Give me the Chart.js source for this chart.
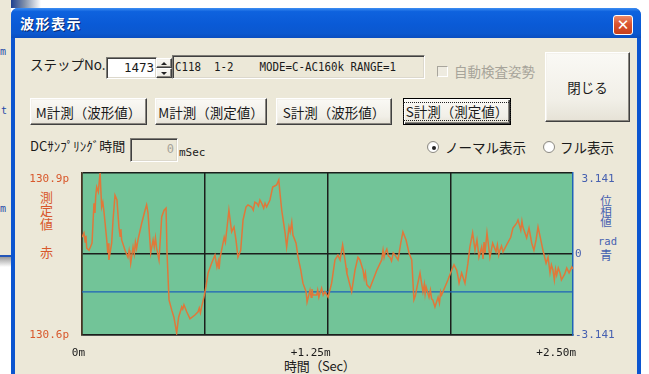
<!DOCTYPE html>
<html lang="ja">
<head>
<meta charset="utf-8">
<title>波形表示</title>
<script src="https://cdn.jsdelivr.net/npm/chart.js@4/dist/chart.umd.min.js"></script>
<style>
html,body{margin:0;padding:0;width:649px;height:374px;overflow:hidden;background:#fff;}
body{position:relative;font-family:"Noto Sans CJK JP",sans-serif;color:#1a1a1a;}
.a{position:absolute;box-sizing:border-box;}
.mono{font-family:"DejaVu Sans Mono",monospace;}
/* background window on the left */
#bgwin{left:0;top:0;width:11px;height:255px;background:#ECE8D8;}
#bgline{left:0;top:255px;width:11px;height:2px;background:#2456B8;}
#bgshade{left:0;top:257px;width:11px;height:10px;background:linear-gradient(#9a9a9a,#fff);}
#bgtop{left:11px;top:0;width:30px;height:8px;background:linear-gradient(to right,#1d3f8f,#8090aa 45%,#fff);}
.bgtxt{color:#2448A8;font-size:10px;line-height:10px;}
/* dialog frame */
#dlg{left:11px;top:8px;width:630px;height:380px;border-radius:7px 7px 0 0;background:#0B55D0;overflow:hidden;}
#titlebar{left:0;top:0;width:630px;height:30px;background:linear-gradient(#3D8EF2 0%,#0E62DE 12%,#0A5AD6 55%,#0B58CF 85%,#0A4EC0 100%);}
#title{left:9px;top:3px;color:#fff;font-weight:bold;font-size:14px;line-height:24px;letter-spacing:1.5px;text-shadow:1px 1px 0 #0a2a70;}
#close{left:602px;top:7px;width:20px;height:20px;border:1px solid #fff;border-radius:3px;background:linear-gradient(#EE8A68,#DA5430 45%,#C8401C);color:#fff;font:bold 15px/18px "DejaVu Sans",sans-serif;text-align:center;}
#client{left:4px;top:30px;width:622px;height:360px;background:#ECE8D8;}
/* controls */
.lbl{font-size:13.5px;line-height:16px;white-space:nowrap;}
.sunken{border-style:solid;border-width:1px;border-color:#7f7d76 #fff #fff #7f7d76;box-shadow:inset 1px 1px 0 #404040,inset -1px -1px 0 #dcd8cc;}
.btn{border-style:solid;border-width:1px;border-color:#fff #404040 #404040 #fff;box-shadow:inset -1px -1px 0 #8a8780,inset 1px 1px 0 #f4f2ec;background:linear-gradient(#FAF9F5,#F1EFE7 70%,#E6E2D6);display:flex;align-items:center;justify-content:center;font-size:13.5px;white-space:nowrap;}
.focus{border:1px solid #000;box-shadow:inset 1px 1px 0 #fff,inset -1px -1px 0 #404040,inset -2px -2px 0 #8a8780;}
.focus span{border:1px dotted #222;padding:0 2px;line-height:17px;}
.radio{width:12px;height:12px;border-radius:50%;border:1px solid #8c8a84;background:radial-gradient(circle at 60% 60%,#fff 55%,#dedbd0);}
.dot{left:3.5px;top:3.5px;width:4px;height:4px;border-radius:50%;background:#222;}
.vt{text-align:center;}
#chartbox{left:20px;top:165px;width:612px;height:209px;}
</style>
</head>
<body>
<div class="a" id="bgwin"></div>
<div class="a" id="bgline"></div>
<div class="a" id="bgshade"></div>
<div class="a" id="bgtop"></div>
<div class="a bgtxt mono" style="left:0;top:47px;">m</div>
<div class="a bgtxt mono" style="left:1px;top:106px;">t</div>
<div class="a bgtxt mono" style="left:0;top:204px;">m</div>

<div class="a" id="dlg">
  <div class="a" id="titlebar"></div>
  <div class="a" id="title">波形表示</div>
  <div class="a" id="close">✕</div>
  <div class="a" id="client"></div>
</div>

<!-- step row -->
<div class="a lbl" style="left:30px;top:56px;">ステップNo.</div>
<div class="a sunken" style="left:106px;top:57px;width:51px;height:22px;background:#fff;"></div>
<div class="a mono" style="left:106px;top:60px;width:48px;text-align:right;font-size:12.5px;line-height:16px;">1473</div>
<div class="a btn" style="left:156px;top:58px;width:16px;height:10px;"><div style="width:0;height:0;border-left:3px solid transparent;border-right:3px solid transparent;border-bottom:3px solid #222;"></div></div>
<div class="a btn" style="left:156px;top:68px;width:16px;height:10px;"><div style="width:0;height:0;border-left:3px solid transparent;border-right:3px solid transparent;border-top:3px solid #222;"></div></div>
<div class="a sunken" style="left:172px;top:55px;width:253px;height:24px;"></div>
<div class="a mono" style="left:175px;top:59px;font-size:12px;line-height:16px;white-space:pre;transform:scaleX(0.9);transform-origin:0 0;">C118  1-2    MODE=C-AC160k RANGE=1</div>
<div class="a sunken" style="left:437px;top:66px;width:11px;height:11px;background:#EEEBE0;box-shadow:none;border-color:#a8a59c #fff #fff #a8a59c;"></div>
<div class="a lbl" style="left:454px;top:63px;color:#A7A49A;">自動検査姿勢</div>
<div class="a btn" style="left:545px;top:52px;width:85px;height:70px;">閉じる</div>

<!-- measurement buttons -->
<div class="a btn" style="left:30px;top:98px;width:117px;height:27px;">M計測（波形値）</div>
<div class="a btn" style="left:155px;top:98px;width:112px;height:27px;">M計測（測定値）</div>
<div class="a btn" style="left:276px;top:98px;width:116px;height:27px;">S計測（波形値）</div>
<div class="a btn focus" style="left:403px;top:98px;width:108px;height:27px;"><span>S計測（測定値）</span></div>

<!-- sampling row -->
<div class="a lbl" style="left:30px;top:138px;font-size:13px;">DCｻﾝﾌﾟﾘﾝｸﾞ時間</div>
<div class="a sunken" style="left:130px;top:138px;width:48px;height:24px;"></div>
<div class="a mono" style="left:131px;top:142px;width:43px;text-align:right;font-size:12px;line-height:14px;color:#A7A49A;">0</div>
<div class="a mono" style="left:179px;top:147px;font-size:11px;line-height:12px;">mSec</div>
<div class="a radio" style="left:427px;top:141px;"><div class="a dot"></div></div>
<div class="a lbl" style="left:445px;top:139px;">ノーマル表示</div>
<div class="a radio" style="left:543px;top:141px;"></div>
<div class="a lbl" style="left:560px;top:139px;">フル表示</div>

<!-- axis side captions -->
<div class="a vt" style="left:39px;top:190px;width:15px;font-size:13px;line-height:13.4px;color:#D8582C;">測<br>定<br>値</div>
<div class="a vt" style="left:39px;top:245px;width:15px;font-size:13px;line-height:14px;color:#D8582C;">赤</div>
<div class="a vt" style="left:599px;top:195px;width:14px;font-size:11.5px;line-height:10.5px;color:#4660B0;">位<br>相<br>値</div>
<div class="a vt mono" style="left:598px;top:236px;width:22px;font-size:10.5px;line-height:11px;color:#4660B0;text-align:left;">rad</div>
<div class="a vt" style="left:599px;top:248px;width:14px;font-size:12px;line-height:13px;color:#4660B0;">青</div>
<div class="a lbl" style="left:284px;top:358px;font-size:13px;letter-spacing:-0.3px;">時間（Sec）</div>

<div class="a" id="chartbox"><canvas id="wave" width="612" height="209"></canvas></div>

<script>
// Capacitance waveform over one 2.5 ms capture window (time in ms, value in pF)
const timeMs = [
  0,0.010,0.016,0.020,0.024,0.036,0.051,0.061,0.066,0.070,
  0.075,0.083,0.092,0.100,0.106,0.112,0.126,0.131,0.134,0.137,
  0.151,0.158,0.168,0.178,0.188,0.194,0.198,0.202,0.219,0.234,
  0.240,0.244,0.248,0.260,0.266,0.272,0.278,0.285,0.304,0.321,
  0.329,0.336,0.350,0.362,0.368,0.374,0.380,0.392,0.406,0.418,
  0.428,0.433,0.443,0.457,0.468,0.482,0.492,0.508,0.513,0.519,
  0.533,0.550,0.575,0.591,0.597,0.603,0.609,0.621,0.631,0.642,
  0.660,0.677,0.687,0.694,0.698,0.703,0.718,0.724,0.730,0.737,
  0.748,0.762,0.774,0.784,0.794,0.808,0.820,0.835,0.845,0.864,
  0.872,0.880,0.890,0.898,0.906,0.915,0.925,0.932,0.940,0.957,
  0.971,0.991,1.002,1.008,1.017,1.034,1.042,1.054,1.060,1.068,
  1.074,1.090,1.100,1.114,1.125,1.141,1.146,1.161,1.167,1.171,
  1.176,1.195,1.200,1.206,1.212,1.220,1.228,1.237,1.253,1.271,
  1.288,1.303,1.314,1.327,1.339,1.345,1.349,1.354,1.373,1.390,
  1.396,1.405,1.415,1.431,1.437,1.443,1.450,1.466,1.482,1.501,
  1.526,1.533,1.538,1.543,1.552,1.560,1.568,1.576,1.585,1.594,
  1.609,1.623,1.634,1.650,1.665,1.679,1.690,1.697,1.706,1.721,
  1.736,1.743,1.747,1.752,1.767,1.774,1.780,1.786,1.797,1.813,
  1.820,1.826,1.831,1.848,1.863,1.882,1.894,1.908,1.914,1.920,
  1.933,1.950,1.965,1.975,1.989,2.001,2.011,2.016,2.021,2.035,
  2.042,2.047,2.052,2.062,2.077,2.091,2.108,2.115,2.122,2.128,
  2.136,2.144,2.162,2.183,2.194,2.213,2.220,2.234,2.240,2.245,
  2.264,2.276,2.290,2.301,2.312,2.322,2.336,2.347,2.363,2.373,
  2.383,2.390,2.398,2.405,2.411,2.417,2.425,2.434,2.441,2.449,
  2.458,2.468,2.480,2.494,2.500
];
const capPF = [
  130.781,130.789,130.772,130.784,130.761,130.757,130.770,130.844,130.826,130.858,
  130.874,130.865,130.900,130.837,130.846,130.828,130.776,130.752,130.770,130.739,
  130.770,130.813,130.859,130.850,130.800,130.783,130.796,130.776,130.757,130.744,
  130.757,130.748,130.733,130.763,130.750,130.772,130.760,130.776,130.807,130.831,
  130.841,130.826,130.752,130.776,130.763,130.780,130.761,130.739,130.819,130.831,
  130.835,130.752,130.665,130.646,130.633,130.604,130.633,130.652,130.648,130.656,
  130.643,130.630,130.637,130.643,130.650,130.641,130.652,130.670,130.689,130.715,
  130.733,130.748,130.726,130.737,130.722,130.743,130.770,130.781,130.772,130.794,
  130.831,130.791,130.800,130.776,130.744,130.757,130.813,130.837,130.841,130.837,
  130.831,130.846,130.844,130.839,130.850,130.844,130.835,130.844,130.837,130.850,
  130.874,130.878,130.887,130.863,130.831,130.789,130.763,130.800,130.791,130.809,
  130.785,130.770,130.744,130.720,130.696,130.680,130.661,130.683,130.670,130.685,
  130.674,130.674,130.683,130.670,130.678,130.687,130.674,130.680,130.670,130.696,
  130.739,130.748,130.739,130.767,130.739,130.724,130.713,130.707,130.680,130.720,
  130.730,130.744,130.739,130.720,130.705,130.715,130.693,130.687,130.702,130.720,
  130.739,130.757,130.744,130.752,130.759,130.746,130.744,130.737,130.752,130.748,
  130.739,130.770,130.791,130.776,130.752,130.739,130.665,130.672,130.689,130.715,
  130.680,130.694,130.676,130.689,130.670,130.683,130.667,130.665,130.652,130.670,
  130.659,130.680,130.674,130.689,130.702,130.720,130.730,130.720,130.709,130.696,
  130.715,130.696,130.733,130.763,130.789,130.757,130.776,130.761,130.744,130.763,
  130.741,130.772,130.752,130.789,130.744,130.770,130.754,130.767,130.748,130.757,
  130.765,130.754,130.767,130.781,130.798,130.807,130.813,130.794,130.811,130.800,
  130.780,130.798,130.770,130.757,130.776,130.800,130.776,130.757,130.733,130.744,
  130.715,130.730,130.720,130.702,130.722,130.711,130.724,130.715,130.702,130.707,
  130.713,130.724,130.715,130.726,130.722
];

// Phase trace (rad)
const phaseTimeMs = [0, 2.5];
const phaseRad = [-1.47, -1.47];

// Axis ticks and their labels
const timeTicks = [0, 0.625, 1.25, 1.875, 2.5];
const timeTickText = ['0m', '', '+1.25m', '', '+2.50m'];
const capTicks = [130.6, 130.75, 130.9];
const capTickText = ['130.6p', '', '130.9p'];
const phaseTicks = [-3.141, 0, 3.141];
const phaseTickText = ['-3.141', '0', ' 3.141'];

const pairs = (xs, ys) => xs.map((x, i) => ({x, y: ys[i]}));
const setTicks = vals => scale => { scale.ticks = vals.map(v => ({value: v})); };
const fixSize = (prop, px) => scale => {
  scale[prop] = px;
  scale.paddingTop = scale.paddingBottom = scale.paddingLeft = scale.paddingRight = 0;
};
const tickFont = {family: 'DejaVu Sans Mono', size: 11};

const plotFill = {
  id: 'plotFill',
  beforeDraw(chart) {
    const {ctx, chartArea: a} = chart;
    ctx.save();
    ctx.fillStyle = '#72C498';
    ctx.fillRect(a.left, a.top, a.right - a.left, a.bottom - a.top);
    ctx.restore();
  }
};

new Chart(document.getElementById('wave'), {
  type: 'line',
  data: {
    datasets: [
      {
        label: '測定値',
        data: pairs(timeMs, capPF),
        yAxisID: 'y',
        borderColor: '#E0783A',
        borderWidth: 1.5,
        pointRadius: 0,
        tension: 0
      },
      {
        label: '位相値',
        data: pairs(phaseTimeMs, phaseRad),
        yAxisID: 'y1',
        borderColor: '#1E62B8',
        borderWidth: 1.4,
        pointRadius: 0,
        tension: 0
      }
    ]
  },
  options: {
    responsive: false,
    animation: false,
    events: [],
    layout: {padding: {top: 8, left: 0, right: 0, bottom: 0}},
    plugins: {legend: {display: false}, tooltip: {enabled: false}},
    scales: {
      x: {
        type: 'linear',
        position: 'bottom',
        min: 0,
        max: 2.5,
        afterBuildTicks: setTicks(timeTicks),
        afterFit: fixSize('height', 39),
        ticks: {
          callback: (v, i) => timeTickText[i],
          align: 'end',
          labelOffset: 3,
          padding: 12,
          maxRotation: 0,
          autoSkip: false,
          color: '#1a1a1a',
          font: tickFont
        },
        grid: {
          color: c => c.index === timeTicks.length - 1 ? 'rgba(0,0,0,0)' : '#1b1f1c',
          lineWidth: 1.5,
          drawTicks: false
        },
        border: {display: true, color: '#1b1f1c', width: 1.5}
      },
      y: {
        type: 'linear',
        position: 'left',
        min: 130.6,
        max: 130.9,
        afterBuildTicks: setTicks(capTicks),
        afterFit: fixSize('width', 62),
        ticks: {
          callback: (v, i) => i === capTicks.length - 1 ? ['', capTickText[i]] : capTickText[i],
          padding: 13,
          autoSkip: false,
          color: '#D8582C',
          font: tickFont
        },
        grid: {color: '#1b1f1c', lineWidth: 1.5, drawTicks: false},
        border: {display: true, color: '#4a3522', width: 1.5}
      },
      y1: {
        type: 'linear',
        position: 'right',
        min: -3.141,
        max: 3.141,
        afterBuildTicks: setTicks(phaseTicks),
        afterFit: fixSize('width', 59),
        ticks: {
          callback: (v, i) => i === phaseTicks.length - 1 ? ['', phaseTickText[i]] : phaseTickText[i],
          padding: 2,
          autoSkip: false,
          color: '#4660B0',
          font: tickFont
        },
        grid: {display: false, drawTicks: false},
        border: {display: true, color: '#1E62B8', width: 1.5}
      }
    }
  },
  plugins: [plotFill]
});
</script>
</body>
</html>
